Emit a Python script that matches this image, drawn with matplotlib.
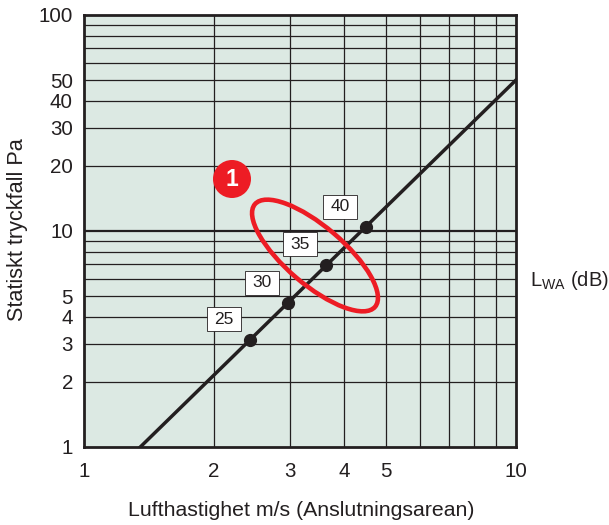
import matplotlib
matplotlib.use('Agg')
import matplotlib.pyplot as plt
from matplotlib.patches import Ellipse, Circle, Rectangle

plt.rcParams['font.family'] = ['Liberation Sans', 'DejaVu Sans']
plt.rcParams['mathtext.default'] = 'regular'

# values
line_x = [1.35, 10]
line_y = [1, 50]
dot_x = [2.42, 2.97, 3.63, 4.5]
dot_y = [3.13, 4.64, 6.96, 10.4]
dot_labels = ['25', '30', '35', '40']
x_ticks = [1, 2, 3, 4, 5, 10]
y_ticks = [1, 2, 3, 4, 5, 10, 20, 30, 40, 50, 100]
x_grid = [2, 3, 4, 5, 6, 7, 8, 9]
y_grid = [2, 3, 4, 5, 6, 7, 8, 9, 20, 30, 40, 50, 60, 70, 80, 90]

W, H = 609, 525
dark = '#231f20'

fig = plt.figure(figsize=(W / 100, H / 100), dpi=100)
ax = fig.add_axes([84 / W, 1 - 447 / H, 432 / W, 432 / H])
ax.set_facecolor('#dce9e3')
ax.set_xscale('log')
ax.set_yscale('log')
ax.set_xlim(1, 10)
ax.set_ylim(1, 100)

for v in x_grid:
    ax.axvline(v, color=dark, lw=0.9, zorder=1)
for v in y_grid:
    ax.axhline(v, color=dark, lw=0.9, zorder=1)
ax.axhline(10, color=dark, lw=1.6, zorder=1)

ax.plot(line_x, line_y, color=dark, lw=2.5, zorder=2)
ax.plot(dot_x, dot_y, 'o', color=dark, ms=8.5, zorder=3)

ax.minorticks_off()
ax.set_xticks(x_ticks)
ax.set_xticklabels([str(v) for v in x_ticks])
ax.set_yticks(y_ticks)
ax.set_yticklabels([str(v) for v in y_ticks])
ax.tick_params(axis='both', which='both', length=0, labelsize=14.8, labelcolor=dark)
ax.tick_params(axis='x', pad=11)
ax.tick_params(axis='y', pad=8)
for sp in ax.spines.values():
    sp.set_linewidth(2)
    sp.set_color(dark)

# overlay in image pixels for the hand drawn marks
over = fig.add_axes([0, 0, 1, 1])
over.set_xlim(0, W)
over.set_ylim(H, 0)
over.axis('off')
over.add_patch(Ellipse((315, 255.5), 158, 58, angle=40.5, fill=False, ec='#ed1c24', lw=3.3))
over.add_patch(Circle((232, 179), 19, fc='#ed1c24', ec='none'))
over.text(232, 179.5, '1', color='white', fontsize=16.5, fontweight='bold', ha='center', va='center')

# label boxes sit up and to the left of each dot
for x, y, s in zip(dot_x, dot_y, dot_labels):
    px, py = ax.transData.transform((x, y))
    cx, cy = px - 26, H - py - 20.5
    over.add_patch(Rectangle((cx - 17, cy - 12), 34, 24, fc='white', ec=dark, lw=0.6))
    over.text(cx, cy, s, fontsize=12.5, color=dark, ha='center', va='center')

over.text(301, 510, 'Lufthastighet m/s (Anslutningsarean)', fontsize=15.3, color=dark, ha='center', va='center')
over.text(18, 230, 'Statiskt tryckfall Pa', fontsize=15.6, color=dark, rotation=90, ha='center', va='center')
over.text(530, 280, 'L$_{WA}$ (dB)', fontsize=14.5, color=dark, ha='left', va='center')

fig.savefig('out.png', dpi=100, facecolor='white')
